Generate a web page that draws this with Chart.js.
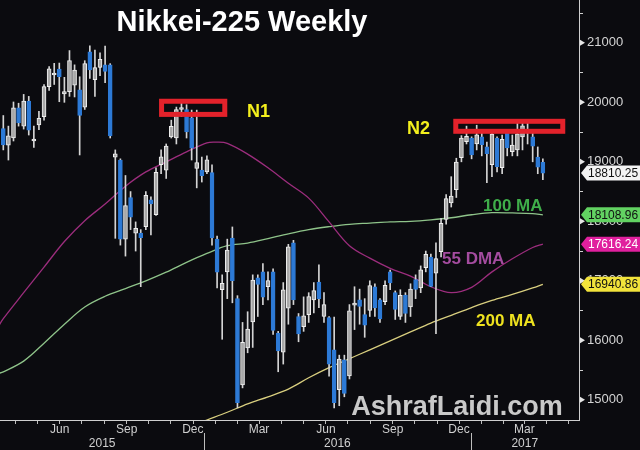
<!DOCTYPE html>
<html>
<head>
<meta charset="utf-8">
<script src="https://cdn.jsdelivr.net/npm/chart.js@4.4.1/dist/chart.umd.min.js"></script>
<style>
  html, body { margin: 0; padding: 0; background: #0b0b0f; }
  #wrap { width: 640px; height: 450px; position: relative; }
</style>
</head>
<body>
<div id="wrap"><canvas id="chartCanvas"></canvas></div>
<script>
// Nikkei-225 weekly candles: index 0 = week of 23 Mar 2015, index 106 = week of 3 Apr 2017
const opens = [19560,19280,19400,19907,19600,20020,19350,19620,19760,20264,
  20460,20560,20140,20180,20290,20210,19920,20850,20380,20585,
  20630,20630,19080,19030,17700,18400,17800,17800,17910,18360,
  18110,18950,18860,19420,19400,19880,19880,19740,18890,18860,
  18830,18818,17700,16850,17150,17720,16700,15250,15870,16310,
  17050,17150,16900,17150,16120,15800,16540,17640,16400,16230,
  16430,16680,16980,16400,16380,15840,15170,15670,15400,16590,
  16680,16430,16500,16900,16680,16650,17150,16800,16400,16760,
  16560,17020,16880,17220,17400,17130,17490,18030,18310,18530,
  19070,19340,19400,19300,19420,19250,18950,19400,18900,19490,
  19170,19200,19420,19500,19420,19080,18990];
const highs = [19778,19600,20006,19985,20133,20100,19600,19850,20300,20600,
  20655,20660,20420,20870,20630,20430,20700,20950,20880,20830,
  20946,20650,19200,19050,18770,18500,17990,17860,18500,18410,
  18900,19200,19300,19700,19920,19990,19960,19870,19869,19080,
  19100,18951,17750,17100,17700,17905,16750,16300,16480,17100,
  17100,17290,17150,17200,16150,16970,17613,17680,16450,16730,
  16800,16970,17270,16800,16400,16390,15750,15750,16600,16900,
  16860,16700,17000,16950,16700,17000,17180,16830,16850,16800,
  16950,17100,17250,17500,17450,17640,18050,18450,18750,19060,
  19440,19600,19420,19615,19500,19330,19500,19420,19450,19500,
  19450,19668,19650,19650,19500,19250,19050];
const lows = [19200,19030,19350,19600,19550,19450,19240,19540,19700,20200,
  20300,20010,20000,20100,20090,19115,19880,20400,20100,20450,
  20330,19400,17714,17600,17415,17860,17500,16901,17860,17770,
  18100,18800,18720,19400,19300,19760,19400,19030,18562,18660,
  18800,17600,16880,16017,16700,16630,14865,15200,15790,15880,
  16400,16600,16680,16100,15471,15600,16270,16600,15975,16150,
  16300,16460,16550,16300,15395,14864,14900,15050,15350,16180,
  16270,16050,16400,16400,16300,16600,16850,16350,16350,16300,
  16400,16700,16800,17150,16900,16111,17400,17950,18240,18400,
  19000,19300,19050,19200,19100,18650,18750,18830,18800,19100,
  19100,19100,19200,19300,19000,18800,18700];
const closes = [19286,19435,19907,19652,20020,19531,19379,19732,20264,20563,
  20480,20430,20180,20700,20540,19780,20650,20544,20585,20724,
  20519,19435,19136,17700,18264,18070,17880,17725,18438,18291,
  18825,19083,19265,19596,19879,19883,19504,19230,18986,18769,
  19033,17720,17147,16958,17518,17000,14952,15967,16188,17014,
  16938,16724,17002,16164,15821,16848,17572,16680,16106,16412,
  16736,16834,16700,16601,15599,14952,15682,15106,16497,16627,
  16569,16254,16919,16545,16360,16925,16965,16519,16754,16450,
  16860,16856,17184,17446,16905,17374,17967,18381,18426,18996,
  19401,19427,19114,19454,19287,19137,19467,18918,19378,19235,
  19283,19469,19604,19521,19262,18909,18810.25];

// moving averages (x = week index)
const ma55Weeks = [-1,0,4,8,12,16,20,24,28,32,36,40,42,44,48,52,56,60,64,68,72,76,80,84,88,92,96,100,104,106];
const ma55 = [16230,16364,16800,17230,17660,18010,18290,18590,18830,19000,19168,19320,19330,19310,19130,18900,18640,18390,17990,17590,17380,17210,17080,16900,16800,16890,17150,17370,17560,17616.24];
const ma100Weeks = [-1,0,4,8,12,16,20,24,28,32,36,40,44,48,52,56,60,64,68,72,76,80,84,88,92,96,100,104,106];
const ma100 = [15440,15470,15650,15950,16270,16560,16740,16870,17000,17145,17310,17460,17590,17635,17710,17790,17860,17910,17950,17970,17990,18000,18025,18060,18110,18145,18140,18130,18108.96];
const ma200Weeks = [36,40,44,48,52,56,60,64,68,72,76,80,84,88,92,96,100,104,106];
const ma200 = [14530,14660,14790,14930,15050,15180,15370,15540,15690,15840,15990,16140,16290,16420,16550,16670,16770,16880,16940.86];

const yTicks = [15000,15500,16000,16500,17000,17500,18000,18500,19000,19500,20000,20500,21000,21500];
const lastValues = [18810.25, 18108.96, 17616.24, 16940.86];
const monthNames = ['Jan','Feb','Mar','Apr','May','Jun','Jul','Aug','Sep','Oct','Nov','Dec'];

const X_MIN = -0.65, X_MAX = 113.1;
const FONT = '"Liberation Sans", Arial, sans-serif';

// week index of a calendar date (candles sit at the end of their week)
const firstWeek = Date.UTC(2015, 2, 27);
function weekIndex(y, m, d) {
  return (Date.UTC(y, m, d) - firstWeek) / 604800000 - 0.5;
}

const monthTicks = [];
const monthLabels = [];
for (let y = 2015; y <= 2017; y++) {
  for (let m = 0; m < 12; m++) {
    const v = weekIndex(y, m, 1);
    if (v > X_MIN && v < X_MAX) {
      monthTicks.push(v);
      monthLabels.push([2, 5, 8, 11].includes(m) ? monthNames[m] : '');
    }
  }
}

const UP_FILL = '#a8a8a8', UP_LINE = '#f0f0f0', DOWN = '#2d7ad6';
const isUp = i => closes[i] >= opens[i];

const wickData = highs.map((h, i) => ({ x: i, y: [lows[i], h] }));
const bodyData = opens.map((o, i) => ({ x: i, y: [Math.min(o, closes[i]), Math.max(o, closes[i])] }));
const pts = (xs, ys) => xs.map((x, i) => ({ x: x, y: ys[i] }));

const decorations = {
  id: 'decorations',
  beforeDraw(chart) {
    const c = chart.ctx;
    c.save();
    c.fillStyle = '#0b0b0f';
    c.fillRect(0, 0, chart.width, chart.height);
    c.restore();
  },
  afterDraw(chart) {
    const c = chart.ctx;
    const xs = chart.scales.x, ys = chart.scales.y;
    const area = chart.chartArea;
    c.save();

    // right-axis markers at labelled ticks
    c.fillStyle = '#e6e6e6';
    yTicks.filter(v => v % 1000 === 0).forEach(v => {
      const y = ys.getPixelForValue(v);
      c.beginPath();
      c.moveTo(area.right + 1, y - 3);
      c.lineTo(area.right + 6, y);
      c.lineTo(area.right + 1, y + 3);
      c.closePath();
      c.fill();
    });

    // year row
    const b1 = xs.getPixelForValue(weekIndex(2016, 0, 1));
    const b2 = xs.getPixelForValue(weekIndex(2017, 0, 1));
    c.strokeStyle = '#bdbdbd';
    c.lineWidth = 1;
    [b1, b2].forEach(b => {
      c.beginPath();
      c.moveTo(Math.round(b) + 0.5, 433);
      c.lineTo(Math.round(b) + 0.5, 450);
      c.stroke();
    });
    c.fillStyle = '#d0d0d0';
    c.font = '12px ' + FONT;
    c.textAlign = 'center';
    c.textBaseline = 'middle';
    c.fillText('2015', (area.left + b1) / 2, 444);
    c.fillText('2016', (b1 + b2) / 2, 444);
    c.fillText('2017', (b2 + area.right) / 2, 444);

    // highlight boxes
    c.strokeStyle = '#e3222b';
    c.lineWidth = 5;
    [[30.6, 44.0, 20060, 19755], [88.4, 110.4, 19723, 19471]].forEach(b => {
      const x1 = xs.getPixelForValue(b[0]), x2 = xs.getPixelForValue(b[1]);
      const y1 = ys.getPixelForValue(b[2]), y2 = ys.getPixelForValue(b[3]);
      c.strokeRect(x1 + 2.5, y1 + 2.5, x2 - x1 - 5, y2 - y1 - 5);
    });

    // text annotations
    c.textAlign = 'left';
    c.textBaseline = 'alphabetic';
    c.font = 'bold 18px ' + FONT;
    c.fillStyle = '#f3ef1d';
    c.fillText('N1', 247, 117);
    c.fillText('N2', 407, 134);
    c.font = 'bold 17px ' + FONT;
    c.fillStyle = '#3fae4a';
    c.fillText('100 MA', 483, 211);
    c.fillStyle = '#a44c9f';
    c.fillText('55 DMA', 442, 264);
    c.fillStyle = '#eee21f';
    c.fillText('200 MA', 476, 326);

    // title and watermark
    c.textAlign = 'center';
    c.fillStyle = '#ffffff';
    c.font = 'bold 29px ' + FONT;
    c.fillText('Nikkei-225 Weekly', 242, 31);
    c.fillStyle = '#c9c9c9';
    c.font = 'bold 27px ' + FONT;
    c.fillText('AshrafLaidi.com', 457, 415);

    // last-value tags
    const tagFill = ['#f4f4f4', '#62d262', '#e0209e', '#f2e33b'];
    const tagText = ['#111111', '#111111', '#ffffff', '#111111'];
    c.font = '12px ' + FONT;
    c.textAlign = 'left';
    c.textBaseline = 'middle';
    lastValues.forEach((v, i) => {
      const y = ys.getPixelForValue(v);
      const x0 = area.right + 2;
      c.fillStyle = tagFill[i];
      c.beginPath();
      c.moveTo(x0, y);
      c.lineTo(x0 + 6, y - 7.5);
      c.lineTo(chart.width, y - 7.5);
      c.lineTo(chart.width, y + 7.5);
      c.lineTo(x0 + 6, y + 7.5);
      c.closePath();
      c.fill();
      c.fillStyle = tagText[i];
      c.fillText(v.toFixed(2), x0 + 7, y + 0.5);
    });
    c.restore();
  }
};

Chart.defaults.font.family = FONT;

const ctx = document.getElementById('chartCanvas').getContext('2d');
new Chart(ctx, {
  type: 'bar',
  data: {
    datasets: [
      {
        type: 'line', label: '55 DMA', data: pts(ma55Weeks, ma55), order: 3,
        borderColor: '#9c2d7d', borderWidth: 1.3, pointRadius: 0, tension: 0.35
      },
      {
        type: 'line', label: '100 MA', data: pts(ma100Weeks, ma100), order: 3,
        borderColor: '#8fc48a', borderWidth: 1.3, pointRadius: 0, tension: 0.35
      },
      {
        type: 'line', label: '200 MA', data: pts(ma200Weeks, ma200), order: 3,
        borderColor: '#d9cf7f', borderWidth: 1.3, pointRadius: 0, tension: 0.35
      },
      {
        label: 'wick', data: wickData, order: 2, grouped: false,
        barThickness: 1, minBarLength: 1,
        backgroundColor: '#d4d4d4', borderWidth: 0
      },
      {
        label: 'body', data: bodyData, order: 1, grouped: false,
        barThickness: 4, minBarLength: 2, borderSkipped: false,
        backgroundColor: c => isUp(c.dataIndex) ? UP_FILL : DOWN,
        borderColor: c => isUp(c.dataIndex) ? UP_LINE : DOWN,
        borderWidth: 1
      }
    ]
  },
  options: {
    responsive: true,
    maintainAspectRatio: false,
    animation: false,
    layout: { padding: 0 },
    plugins: { legend: { display: false }, tooltip: { enabled: false }, title: { display: false } },
    scales: {
      x: {
        type: 'linear',
        min: X_MIN,
        max: X_MAX,
        offset: false,
        afterBuildTicks: s => { s.ticks = monthTicks.map(v => ({ value: v })); },
        afterFit: s => { s.height = 30; s.paddingLeft = 0; s.paddingRight = 0; },
        ticks: {
          autoSkip: false, maxRotation: 0, includeBounds: false,
          labelOffset: 11, padding: -2,
          color: '#d0d0d0', font: { size: 12 },
          callback: (v, i) => monthLabels[i]
        },
        grid: { drawOnChartArea: false, drawTicks: true, tickLength: 4, tickColor: '#bdbdbd' },
        border: { display: true, color: '#cfcfcf', width: 1 }
      },
      y: {
        position: 'right',
        min: 14660,
        max: 21720,
        afterBuildTicks: s => { s.ticks = yTicks.map(v => ({ value: v })); },
        afterFit: s => { s.width = 61; s.paddingTop = 0; s.paddingBottom = 0; },
        ticks: {
          autoSkip: false, includeBounds: false, padding: 4,
          color: '#d4d4d4', font: { size: 13 },
          callback: v => (v % 1000 === 0 ? String(v) : '')
        },
        grid: { drawOnChartArea: false, drawTicks: true, tickLength: 4, tickColor: '#cfcfcf' },
        border: { display: true, color: '#cfcfcf', width: 1 }
      }
    }
  },
  plugins: [decorations]
});
</script>
</body>
</html>
